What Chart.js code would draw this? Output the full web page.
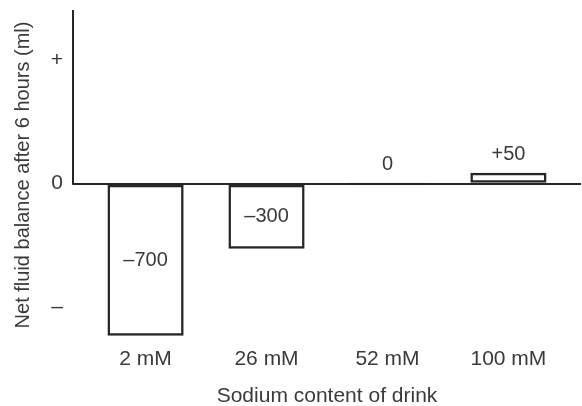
<!DOCTYPE html>
<html>
<head>
<meta charset="utf-8">
<script src="https://cdn.jsdelivr.net/npm/chart.js@4/dist/chart.umd.min.js"></script>
<style>
  html, body { margin: 0; padding: 0; background: #fff; }
  #wrap { width: 582px; height: 406px; }
</style>
</head>
<body>
<div id="wrap"><canvas id="fluidChart" width="582" height="406"></canvas></div>
<script>
// drink categories and measured balance (ml)
const categories = ["2 mM", "26 mM", "52 mM", "100 mM"];
const balance = [-700, -300, 0, 50];
const balanceLabels = ["\u2013700", "\u2013300", "0", "+50"];
// y axis only carries signs, no numbers
const yTickValues = [-570, 0, 570];
const yTickText = ["\u2013", "0", "+"];

const ink = "#262626";
const textColor = "#3a3a3a";
const fontFamily = "'Liberation Sans', Arial, sans-serif";

// y axis line only runs from the top down to zero
const axisLine = {
  id: "axisLine",
  afterDatasetsDraw(chart) {
    const { ctx, chartArea, scales } = chart;
    const zeroY = scales.y.getPixelForValue(0);
    ctx.save();
    ctx.strokeStyle = ink;
    ctx.lineWidth = 2;
    ctx.beginPath();
    ctx.moveTo(chartArea.left, chartArea.top);
    ctx.lineTo(chartArea.left, zeroY + 1);
    ctx.stroke();
    ctx.restore();
  },
};

// value text inside negative bars, above the others
const valueText = {
  id: "valueText",
  afterDatasetsDraw(chart) {
    const { ctx } = chart;
    const meta = chart.getDatasetMeta(0);
    ctx.save();
    ctx.fillStyle = textColor;
    ctx.font = "20px " + fontFamily;
    ctx.textAlign = "center";
    ctx.textBaseline = "middle";
    meta.data.forEach((bar, i) => {
      if (balance[i] < 0) {
        ctx.fillText(balanceLabels[i], bar.x, (bar.y + bar.base) / 2);
      } else {
        ctx.fillText(balanceLabels[i], bar.x, Math.min(bar.y, bar.base) - 18);
      }
    });
    ctx.restore();
  },
};

const points = balance.map((v, i) => ({ x: i, y: v }));

const chart = new Chart(document.getElementById("fluidChart").getContext("2d"), {
  type: "bar",
  data: {
    datasets: [
      {
        data: points,
        backgroundColor: "rgba(255,255,255,0)",
        borderColor: ink,
        borderWidth: 2.5,
        borderSkipped: false,
        minBarLength: 2,
        categoryPercentage: 1,
        barPercentage: 0.63,
      },
    ],
  },
  options: {
    responsive: false,
    animation: false,
    layout: { padding: { top: 10, right: 1, left: 0, bottom: 0 } },
    plugins: {
      legend: { display: false },
      tooltip: { enabled: false },
    },
    scales: {
      x: {
        type: "linear",
        offset: false,
        min: -0.6,
        max: 3.6,
        afterBuildTicks: (scale) => {
          scale.ticks = categories.map((c, i) => ({ value: i }));
        },
        afterFit: (scale) => {
          scale.height = 66;
          scale.paddingLeft = 0;
          scale.paddingRight = 0;
        },
        ticks: {
          autoSkip: false,
          maxRotation: 0,
          padding: 7,
          color: textColor,
          font: { size: 21, family: fontFamily },
          callback: (value) => categories[value],
        },
        grid: { display: false, drawTicks: false },
        border: { display: false },
        title: {
          display: true,
          text: "Sodium content of drink",
          color: textColor,
          font: { size: 21, family: fontFamily, lineHeight: 1 },
          padding: { top: 0, bottom: -1 },
        },
      },
      y: {
        min: -720,
        max: 800,
        afterBuildTicks: (scale) => {
          scale.ticks = yTickValues.map((v) => ({ value: v }));
        },
        afterFit: (scale) => {
          scale.width = 73;
          scale.paddingTop = 0;
          scale.paddingBottom = 0;
        },
        ticks: {
          padding: 10,
          color: textColor,
          font: { size: 21, family: fontFamily },
          callback: (value) => yTickText[yTickValues.indexOf(value)],
        },
        grid: {
          drawTicks: false,
          lineWidth: 2,
          color: (ctx) => (ctx.tick && ctx.tick.value === 0 ? ink : "rgba(0,0,0,0)"),
        },
        border: { display: false },
        title: {
          display: true,
          text: "Net fluid balance after 6 hours (ml)",
          color: textColor,
          font: { size: 20, family: fontFamily },
          padding: { top: 11, bottom: 0 },
        },
      },
    },
  },
  plugins: [axisLine, valueText],
});
</script>
</body>
</html>
